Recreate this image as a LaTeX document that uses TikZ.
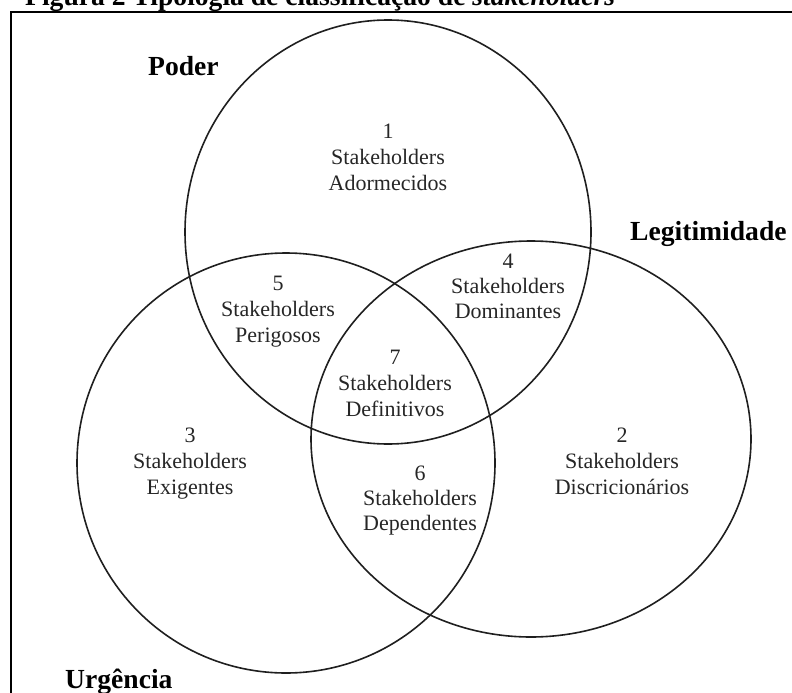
\documentclass[tikz,border=0pt]{standalone}
\usepackage{fontspec}
\setmainfont{Liberation Serif}
\begin{document}
\begin{tikzpicture}[x=1pt,y=-1pt,
  ring/.style={draw=black!88, line width=1.6pt},
  frameline/.style={draw=black, line width=2.4pt},
  lbl/.style={anchor=base, inner sep=0pt, text=black!85, font=\fontsize{22}{25}\selectfont},
  head/.style={anchor=base west, inner sep=0pt, font=\fontsize{27.6}{30}\selectfont\bfseries}]
\useasboundingbox (0,0) rectangle (792,693);
% title (cut at top) and frame
\node[head] (title) at (25,5.5) {Figura 2 Tipologia de classificação de \textit{stakeholders}};
\coordinate (fbl) at (11,720);
\coordinate (ftl) at (11,12.3);
\coordinate (ftr) at (820,12.3);
\draw[frameline] (fbl) -- (ftl) -- (ftr);
% circles
\draw[ring] (388,232) ellipse [x radius=203pt, y radius=212pt];
\draw[ring] (531,439) ellipse [x radius=220pt, y radius=198pt];
\draw[ring] (286,463) ellipse [x radius=209pt, y radius=210pt];
% headings
\node[head] (poder) at (148,75) {Poder};
\node[head] (legit) at (630,240) {Legitimidade};
\node[head] (urg) at (65,688) {Urgência};
% 1
\node[lbl] (a1) at (388,138) {1};
\node[lbl] (a2) at (388,164) {Stakeholders};
\node[lbl] (a3) at (388,190) {Adormecidos};
% 4
\node[lbl] (d1) at (508,268) {4};
\node[lbl] (d2) at (508,293) {Stakeholders};
\node[lbl] (d3) at (508,318) {Dominantes};
% 5
\node[lbl] (e1) at (278,290) {5};
\node[lbl] (e2) at (278,316) {Stakeholders};
\node[lbl] (e3) at (278,342) {Perigosos};
% 7
\node[lbl] (g1) at (395,364) {7};
\node[lbl] (g2) at (395,390) {Stakeholders};
\node[lbl] (g3) at (395,416) {Definitivos};
% 3
\node[lbl] (c1) at (190,442) {3};
\node[lbl] (c2) at (190,468) {Stakeholders};
\node[lbl] (c3) at (190,494) {Exigentes};
% 2
\node[lbl] (b1) at (622,442) {2};
\node[lbl] (b2) at (622,468) {Stakeholders};
\node[lbl] (b3) at (622,494) {Discricionários};
% 6
\node[lbl] (f1) at (420,480) {6};
\node[lbl] (f2) at (420,505) {Stakeholders};
\node[lbl] (f3) at (420,530) {Dependentes};
\end{tikzpicture}
\end{document}
